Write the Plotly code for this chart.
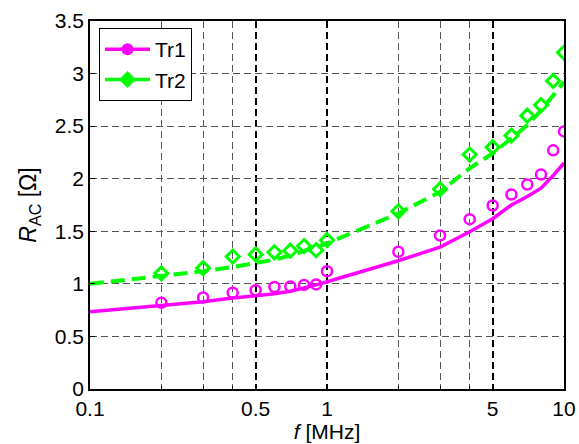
import plotly.graph_objects as go

# measured points
freq_pts = [0.2, 0.3, 0.4, 0.5, 0.6, 0.7, 0.8, 0.9, 1, 2, 3, 4, 5, 6, 7, 8, 9, 10]
tr1_meas = [0.82, 0.87, 0.915, 0.94, 0.97, 0.975, 0.99, 0.995, 1.12, 1.305, 1.46, 1.615, 1.745, 1.85, 1.945, 2.04, 2.27, 2.45]
tr2_meas = [1.10, 1.15, 1.26, 1.28, 1.30, 1.315, 1.36, 1.32, 1.415, 1.69, 1.90, 2.23, 2.30, 2.41, 2.60, 2.70, 2.93, 3.20]

# model curves
freq_fit = [0.1, 0.2, 0.3, 0.4, 0.5, 0.6, 0.7, 0.8, 0.9, 1, 2, 3, 4, 5, 6, 7, 8, 9, 10]
tr1_fit = [0.735, 0.79, 0.83, 0.865, 0.885, 0.905, 0.93, 0.96, 0.99, 1.02, 1.22, 1.35, 1.495, 1.62, 1.75, 1.83, 1.91, 2.03, 2.15]
tr2_fit = [1.0, 1.07, 1.12, 1.16, 1.2, 1.23, 1.27, 1.31, 1.35, 1.385, 1.67, 1.875, 2.1, 2.24, 2.385, 2.51, 2.65, 2.8, 2.92]

x_ticks = [0.1, 0.5, 1, 5, 10]
x_ticktext = ["0.1", "0.5", "1", "5", "10"]
x_minor = [0.2, 0.3, 0.4, 2, 3, 4]
y_ticks = [0, 0.5, 1, 1.5, 2, 2.5, 3, 3.5]
y_ticktext = ["0", "0.5", "1", "1.5", "2", "2.5", "3", "3.5"]

MAG = "#FF00FF"
GRN = "#00FF00"
FONT = "Arial, Liberation Sans, sans-serif"

fig = go.Figure()
fig.add_trace(go.Scatter(x=freq_fit, y=tr1_fit, mode="lines",
                         line=dict(color=MAG, width=3.5), showlegend=False))
fig.add_trace(go.Scatter(x=freq_fit, y=tr2_fit, mode="lines",
                         line=dict(color=GRN, width=4, dash="14px,7px"), showlegend=False))
fig.add_trace(go.Scatter(x=freq_pts, y=tr1_meas, mode="markers",
                         marker=dict(symbol="circle-open", size=10, color=MAG, line=dict(width=2.5, color=MAG)),
                         showlegend=False))
fig.add_trace(go.Scatter(x=freq_pts, y=tr2_meas, mode="markers",
                         marker=dict(symbol="diamond-open", size=10, color=GRN, line=dict(width=3, color=GRN)),
                         showlegend=False))
# legend entries
fig.add_trace(go.Scatter(x=[None], y=[None], mode="lines+markers", name="Tr1",
                         line=dict(color=MAG, width=3.5),
                         marker=dict(symbol="circle", size=12, color=MAG)))
fig.add_trace(go.Scatter(x=[None], y=[None], mode="lines+markers", name="Tr2",
                         line=dict(color=GRN, width=3.5),
                         marker=dict(symbol="diamond", size=13, color=GRN)))

fig.update_layout(
    width=579, height=444,
    margin=dict(l=90, r=15, t=21, b=55),
    paper_bgcolor="white", plot_bgcolor="white",
    font=dict(family=FONT, size=20, color="black"),
    legend=dict(x=0.019, y=0.981, xanchor="left", yanchor="top",
                bgcolor="white", bordercolor="black", borderwidth=1,
                font=dict(size=21), itemwidth=45, tracegroupgap=0),
    xaxis=dict(
        type="log", range=[-1, 1], automargin=False,
        tickvals=x_ticks, ticktext=x_ticktext,
        showline=True, linecolor="black", linewidth=1.5, mirror=True,
        ticks="inside", ticklen=5, tickcolor="black",
        showgrid=True, gridcolor="black", griddash="7px,4px", gridwidth=1.8,
        minor=dict(tickvals=x_minor, showgrid=True, gridcolor="#555555",
                   griddash="7px,4px", gridwidth=1, ticks="inside", ticklen=3, tickcolor="black"),
        zeroline=False,
        title=dict(text="<i>f</i> [MHz]", font=dict(size=21), standoff=2),
        tickfont=dict(size=21),
    ),
    yaxis=dict(
        range=[0, 3.5], automargin=False,
        tickvals=y_ticks, ticktext=y_ticktext,
        showline=True, linecolor="black", linewidth=1.5, mirror=True,
        ticks="inside", ticklen=5, tickcolor="black",
        showgrid=True, gridcolor="#555555", griddash="7px,4px", gridwidth=1,
        zeroline=False,
        title=dict(text="<i>R</i><sub>AC</sub> [Ω]", font=dict(size=23), standoff=12),
        tickfont=dict(size=21),
    ),
)

post = (
    "document.documentElement.style.overflow='hidden';"
    "document.body.style.margin='0';"
    "document.body.style.overflow='hidden';"
)
fig.write_html("out.html", config={"displayModeBar": False}, post_script=post)
